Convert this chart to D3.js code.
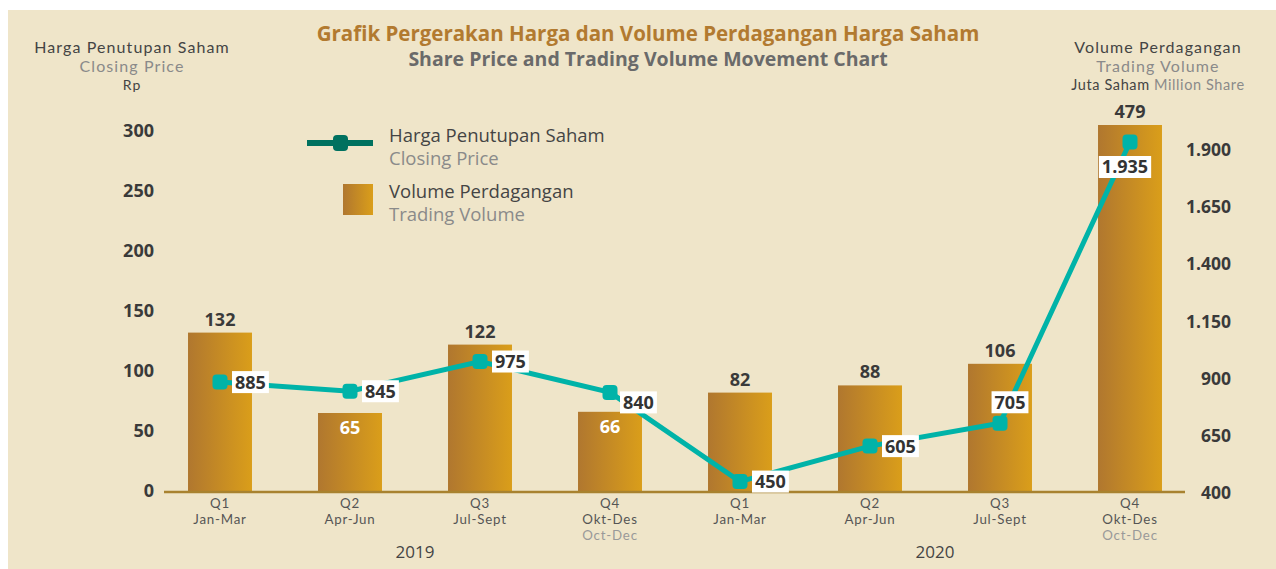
<!DOCTYPE html>
<html>
<head>
<meta charset="utf-8">
<script src="https://cdn.jsdelivr.net/npm/d3@7"></script>
<style>
	body { margin: 0; background: #fff; }
	svg { display: block; }
	text { font-family: "Open Sans", Lato, sans-serif; }
	.sideTitle text, .xLabels text { font-family: Lato, "Open Sans", sans-serif; }
</style>
</head>
<body>
<svg id="myGraph" width="1276" height="569"></svg>
<script>
// data
var quarters = ["Q1", "Q2", "Q3", "Q4", "Q1", "Q2", "Q3", "Q4"]
var months = ["Jan-Mar", "Apr-Jun", "Jul-Sept", "Okt-Des", "Jan-Mar", "Apr-Jun", "Jul-Sept", "Okt-Des"]
var monthsEn = ["", "", "", "Oct-Dec", "", "", "", "Oct-Dec"]
var years = ["2019", "2020"]
var volume = [132, 65, 122, 66, 82, 88, 106, 479]
var price = [885, 845, 975, 840, 450, 605, 705, 1935]
var volumeTicks = [0, 50, 100, 150, 200, 250, 300]
var priceTicks = [400, 650, 900, 1150, 1400, 1650, 1900]
// where each price label sits, and which volume labels go inside the bar
var priceLabelPlace = ["right", "right", "right", "belowRight", "right", "right", "above", "below"]
var volumeInside = [false, true, false, true, false, false, false, false]

var svg = d3.select("#myGraph")
var idLocale = d3.formatLocale({ decimal: ",", thousands: ".", grouping: [3], currency: ["Rp", ""] })
var fmt = idLocale.format(",d")

// background panel
svg.append("rect")
	.attr("x", 8).attr("y", 10)
	.attr("width", 1268).attr("height", 559)
	.attr("fill", "#EFE5C9")

// gradient for bars
var grad = svg.append("defs").append("linearGradient")
	.attr("id", "barGrad")
	.attr("x1", "0%").attr("x2", "100%").attr("y1", "0%").attr("y2", "0%")
grad.append("stop").attr("offset", "0%").attr("stop-color", "#B0772F")
grad.append("stop").attr("offset", "100%").attr("stop-color", "#DA9E1A")

// scales
var idx = d3.range(quarters.length)
var xScale = d3.scaleBand()
	.domain(idx)
	.range([155, 1195])
	.paddingInner(0.508)
	.paddingOuter(0.254)

var yVol = d3.scaleLinear()
	.domain([0, 305])
	.range([491, 125])
	.clamp(true)

var yPrice = d3.scaleLinear()
	.domain([400, 1900])
	.range([493, 150])

// titles
svg.append("text")
	.attr("x", 648).attr("y", 41)
	.attr("text-anchor", "middle")
	.style("font-size", "20.5px").style("font-weight", "700")
	.attr("fill", "#B27A30")
	.text("Grafik Pergerakan Harga dan Volume Perdagangan Harga Saham")
svg.append("text")
	.attr("x", 648).attr("y", 66)
	.attr("text-anchor", "middle")
	.style("font-size", "19.5px").style("font-weight", "700")
	.attr("fill", "#6A6A6A")
	.text("Share Price and Trading Volume Movement Chart")

// axis titles
var leftTitle = svg.append("g").attr("class", "sideTitle").attr("text-anchor", "middle")
	.style("font-size", "16px").style("letter-spacing", "1.1px")
leftTitle.append("text").attr("x", 132).attr("y", 53).attr("fill", "#444").text("Harga Penutupan Saham")
leftTitle.append("text").attr("x", 132).attr("y", 72).attr("fill", "#8A8A8A").text("Closing Price")
leftTitle.append("text").attr("x", 132).attr("y", 90).attr("fill", "#444").style("font-size", "14px").text("Rp")

var rightTitle = svg.append("g").attr("class", "sideTitle").attr("text-anchor", "middle")
	.style("font-size", "16px").style("letter-spacing", "1.1px")
rightTitle.append("text").attr("x", 1158).attr("y", 53).attr("fill", "#444").text("Volume Perdagangan")
rightTitle.append("text").attr("x", 1158).attr("y", 72).attr("fill", "#8A8A8A").text("Trading Volume")
var rt3 = rightTitle.append("text").attr("x", 1158).attr("y", 90)
	.style("font-size", "14.5px").style("letter-spacing", "0.6px")
rt3.append("tspan").attr("fill", "#444").text("Juta Saham ")
rt3.append("tspan").attr("fill", "#8A8A8A").text("Million Share")

// left axis
var yAxisL = d3.axisLeft(yVol).tickValues(volumeTicks).tickSize(0).tickPadding(0).tickFormat(fmt)
svg.append("g")
	.attr("transform", "translate(154,0)")
	.call(yAxisL)
	.call(function(g) { g.select(".domain").remove() })
	.selectAll("text")
	.style("font-family", "'Open Sans', sans-serif")
	.style("font-size", "18px").style("font-weight", "700")
	.attr("fill", "#3A3A3A")

// right axis
var yAxisR = d3.axisLeft(yPrice).tickValues(priceTicks).tickSize(0).tickPadding(0).tickFormat(fmt)
svg.append("g")
	.attr("transform", "translate(1231,0)")
	.call(yAxisR)
	.call(function(g) { g.select(".domain").remove() })
	.selectAll("text")
	.style("font-family", "'Open Sans', sans-serif")
	.style("font-size", "17.5px").style("font-weight", "700")
	.attr("fill", "#3A3A3A")

// bars
svg.append("g").selectAll("rect")
	.data(volume)
	.enter()
	.append("rect")
	.attr("x", function(d, i) { return xScale(i) })
	.attr("y", function(d) { return yVol(d) })
	.attr("width", xScale.bandwidth())
	.attr("height", function(d) { return yVol(0) - yVol(d) })
	.attr("fill", "url(#barGrad)")

// bar value labels
svg.append("g").selectAll("text")
	.data(volume)
	.enter()
	.append("text")
	.attr("x", function(d, i) { return xScale(i) + xScale.bandwidth() / 2 })
	.attr("y", function(d, i) { return volumeInside[i] ? yVol(d) + 21 : yVol(d) - 7 })
	.attr("text-anchor", "middle")
	.style("font-size", "18px").style("font-weight", "700")
	.attr("fill", function(d, i) { return volumeInside[i] ? "#fff" : "#3A3A3A" })
	.text(function(d) { return fmt(d) })

// x axis line
svg.append("line")
	.attr("x1", 164).attr("x2", 1185)
	.attr("y1", 492).attr("y2", 492)
	.attr("stroke", "#A8822F").attr("stroke-width", 2.5)

// x labels
var xLab = svg.append("g").attr("class", "xLabels").selectAll("g")
	.data(idx)
	.enter()
	.append("g")
	.attr("transform", function(d) { return "translate(" + (xScale(d) + xScale.bandwidth() / 2) + ",0)" })
	.attr("text-anchor", "middle")
	.style("font-size", "13.3px").style("letter-spacing", "0.8px")
xLab.append("text").attr("y", 508).attr("fill", "#555").text(function(d) { return quarters[d] })
xLab.append("text").attr("y", 524).attr("fill", "#555").text(function(d) { return months[d] })
xLab.append("text").attr("y", 540).attr("fill", "#999").text(function(d) { return monthsEn[d] })

// years under middle of each group of four
svg.append("g").selectAll("text")
	.data(years)
	.enter()
	.append("text")
	.attr("x", function(d, i) { return (xScale(i * 4 + 1) + xScale(i * 4 + 2)) / 2 + xScale.bandwidth() / 2 })
	.attr("y", 558)
	.attr("text-anchor", "middle")
	.style("font-size", "17px")
	.attr("fill", "#444")
	.text(function(d) { return d })

// price line
var lineGen = d3.line()
	.x(function(d, i) { return xScale(i) + xScale.bandwidth() / 2 })
	.y(function(d) { return yPrice(d) })
svg.append("path")
	.datum(price)
	.attr("d", lineGen)
	.attr("fill", "none")
	.attr("stroke", "#00B3A8")
	.attr("stroke-width", 5)

svg.append("g").selectAll("rect")
	.data(price)
	.enter()
	.append("rect")
	.attr("x", function(d, i) { return xScale(i) + xScale.bandwidth() / 2 - 7.5 })
	.attr("y", function(d) { return yPrice(d) - 7.5 })
	.attr("width", 15).attr("height", 15)
	.attr("rx", 4)
	.attr("fill", "#00B3A8")

// price labels with white boxes
var offsets = {
	right: { dx: 12, dy: 0, anchor: "start" },
	belowRight: { dx: 10, dy: 10, anchor: "start" },
	above: { dx: 10, dy: -21, anchor: "middle" },
	below: { dx: -5, dy: 25, anchor: "middle" }
}
var pLab = svg.append("g").selectAll("g")
	.data(price)
	.enter()
	.append("g")
	.attr("transform", function(d, i) {
		var o = offsets[priceLabelPlace[i]]
		return "translate(" + (xScale(i) + xScale.bandwidth() / 2 + o.dx) + "," + (yPrice(d) + o.dy) + ")"
	})
var pText = pLab.append("text")
	.attr("x", function(d, i) { return offsets[priceLabelPlace[i]].anchor == "start" ? 3 : 0 })
	.attr("dy", "0.36em")
	.attr("text-anchor", function(d, i) { return offsets[priceLabelPlace[i]].anchor })
	.style("font-size", "18px").style("font-weight", "700")
	.attr("fill", "#333")
	.text(function(d) { return fmt(d) })
pText.each(function() {
	var b = this.getBBox()
	d3.select(this.parentNode).insert("rect", "text")
		.attr("x", b.x - 3).attr("y", -11)
		.attr("width", b.width + 6).attr("height", 22)
		.attr("fill", "#fff")
})

// legend
var leg = svg.append("g")
leg.append("line")
	.attr("x1", 307).attr("x2", 373).attr("y1", 143).attr("y2", 143)
	.attr("stroke", "#00715F").attr("stroke-width", 6)
leg.append("rect")
	.attr("x", 333).attr("y", 135).attr("width", 15).attr("height", 16).attr("rx", 4)
	.attr("fill", "#00715F")
leg.append("rect")
	.attr("x", 343).attr("y", 184).attr("width", 30).attr("height", 31)
	.attr("fill", "url(#barGrad)")
leg.append("text").attr("x", 389).attr("y", 142).attr("fill", "#444").style("font-size", "18.5px").text("Harga Penutupan Saham")
leg.append("text").attr("x", 389).attr("y", 165).attr("fill", "#8A8A8A").style("font-size", "18.5px").text("Closing Price")
leg.append("text").attr("x", 389).attr("y", 198).attr("fill", "#444").style("font-size", "18.5px").text("Volume Perdagangan")
leg.append("text").attr("x", 389).attr("y", 221).attr("fill", "#8A8A8A").style("font-size", "18.5px").text("Trading Volume")
</script>
</body>
</html>
